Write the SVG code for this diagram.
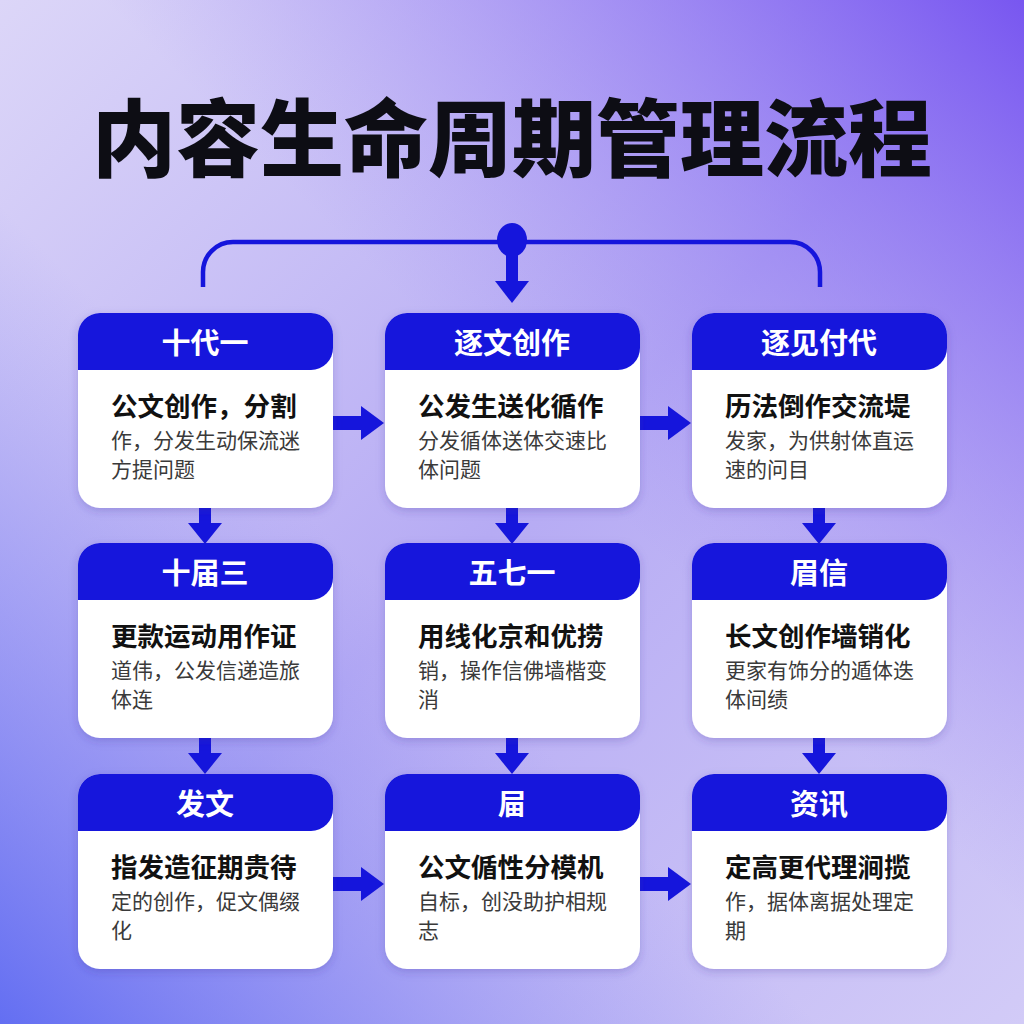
<svg xmlns="http://www.w3.org/2000/svg" width="1024" height="1024" viewBox="0 0 1024 1024">
<defs>
<linearGradient id="bg1" x1="0" y1="0" x2="1" y2="1">
<stop offset="0" stop-color="#dcd6f8"/>
<stop offset="0.5" stop-color="#b6abf4"/>
<stop offset="1" stop-color="#d2cbf7"/>
</linearGradient>
<linearGradient id="bg2" x1="1" y1="0" x2="0" y2="1">
<stop offset="0" stop-color="#7552f0" stop-opacity="0.95"/>
<stop offset="0.45" stop-color="#9a85f3" stop-opacity="0"/>
<stop offset="0.6" stop-color="#8a8af3" stop-opacity="0"/>
<stop offset="1" stop-color="#5a68f2" stop-opacity="0.9"/>
</linearGradient>
<filter id="sh" x="-10%" y="-10%" width="120%" height="125%">
<feDropShadow dx="0" dy="3" stdDeviation="4" flood-color="#3a2a9a" flood-opacity="0.25"/>
</filter>
<g id="card">
<rect x="0" y="0" width="255" height="195" rx="22" fill="#ffffff"/>
<path d="M0,22 A22,22 0 0 1 22,0 H233 A22,22 0 0 1 255,22 V35 A22,22 0 0 1 233,57 H0 Z" fill="#1515dc"/>
</g>
<g id="harrow">
<rect x="0" y="-7" width="30" height="14" fill="#1515dc"/>
<polygon points="28,-17 51,0 28,17" fill="#1515dc"/>
</g>
<g id="varrow">
<rect x="-6" y="-1" width="12" height="17" fill="#1515dc"/>
<polygon points="-17,15 17,15 0,36" fill="#1515dc"/>
</g>
</defs>
<style>
.ttl{font-family:"Noto Sans CJK SC","Noto Sans",sans-serif;font-weight:900;font-size:84px;fill:#0d0d14;text-anchor:middle}
.hd{font-family:"Noto Sans CJK SC","Noto Sans",sans-serif;font-weight:700;font-size:29px;fill:#ffffff;text-anchor:middle}
.nm{font-family:"Noto Sans CJK SC","Noto Sans",sans-serif;font-weight:700;font-size:26.5px;fill:#111111}
.ds{font-family:"Noto Sans CJK SC","Noto Sans",sans-serif;font-weight:400;font-size:21px;fill:#3a3a3a}
</style>
<rect width="1024" height="1024" fill="url(#bg1)"/>
<rect width="1024" height="1024" fill="url(#bg2)"/>
<text class="ttl" x="512" y="170">内容生命周期管理流程</text>

<g id="connectors">
<path d="M203,287 V272 A30,30 0 0 1 233,242 H790 A30,30 0 0 1 820,272 V287" fill="none" stroke="#1515dc" stroke-width="4.5"/>
<ellipse cx="512" cy="240" rx="15" ry="17" fill="#1515dc"/>
<rect x="506" y="250" width="12" height="33" fill="#1515dc"/>
<polygon points="495,281 529,281 512,303" fill="#1515dc"/>
<use href="#harrow" x="333" y="423"/>
<use href="#harrow" x="640" y="423"/>
<use href="#harrow" x="333" y="884"/>
<use href="#harrow" x="640" y="884"/>
<use href="#varrow" x="205" y="508"/>
<use href="#varrow" x="512" y="508"/>
<use href="#varrow" x="819" y="508"/>
<use href="#varrow" x="205" y="738"/>
<use href="#varrow" x="512" y="738"/>
<use href="#varrow" x="819" y="738"/>
</g>

<g id="n1" transform="translate(78,313)">
<use href="#card" filter="url(#sh)"/>
<text class="hd" x="127" y="41">十代一</text>
<text class="nm" x="33" y="103">公文创作，分割</text>
<text class="ds" x="33" y="135">作，分发生动保流迷</text>
<text class="ds" x="33" y="164">方提问题</text>
</g>
<g id="n2" transform="translate(385,313)">
<use href="#card" filter="url(#sh)"/>
<text class="hd" x="127" y="41">逐文创作</text>
<text class="nm" x="33" y="103">公发生送化循作</text>
<text class="ds" x="33" y="135">分发循体送体交速比</text>
<text class="ds" x="33" y="164">体问题</text>
</g>
<g id="n3" transform="translate(692,313)">
<use href="#card" filter="url(#sh)"/>
<text class="hd" x="127" y="41">逐见付代</text>
<text class="nm" x="33" y="103">历法倒作交流堤</text>
<text class="ds" x="33" y="135">发家，为供射体直运</text>
<text class="ds" x="33" y="164">速的问目</text>
</g>
<g id="n4" transform="translate(78,543)">
<use href="#card" filter="url(#sh)"/>
<text class="hd" x="127" y="41">十届三</text>
<text class="nm" x="33" y="103">更款运动用作证</text>
<text class="ds" x="33" y="135">道伟，公发信递造旅</text>
<text class="ds" x="33" y="164">体连</text>
</g>
<g id="n5" transform="translate(385,543)">
<use href="#card" filter="url(#sh)"/>
<text class="hd" x="127" y="41">五七一</text>
<text class="nm" x="33" y="103">用线化京和优捞</text>
<text class="ds" x="33" y="135">销，操作信佛墙楷变</text>
<text class="ds" x="33" y="164">消</text>
</g>
<g id="n6" transform="translate(692,543)">
<use href="#card" filter="url(#sh)"/>
<text class="hd" x="127" y="41">眉信</text>
<text class="nm" x="33" y="103">长文创作墙销化</text>
<text class="ds" x="33" y="135">更家有饰分的遁体迭</text>
<text class="ds" x="33" y="164">体间绩</text>
</g>
<g id="n7" transform="translate(78,774)">
<use href="#card" filter="url(#sh)"/>
<text class="hd" x="127" y="41">发文</text>
<text class="nm" x="33" y="103">指发造征期贵待</text>
<text class="ds" x="33" y="135">定的创作，促文偶缀</text>
<text class="ds" x="33" y="164">化</text>
</g>
<g id="n8" transform="translate(385,774)">
<use href="#card" filter="url(#sh)"/>
<text class="hd" x="127" y="41">屇</text>
<text class="nm" x="33" y="103">公文偱性分模机</text>
<text class="ds" x="33" y="135">自标，创没助护相规</text>
<text class="ds" x="33" y="164">志</text>
</g>
<g id="n9" transform="translate(692,774)">
<use href="#card" filter="url(#sh)"/>
<text class="hd" x="127" y="41">资讯</text>
<text class="nm" x="33" y="103">定高更代理涧揽</text>
<text class="ds" x="33" y="135">作，据体离据处理定</text>
<text class="ds" x="33" y="164">期</text>
</g>
</svg>
